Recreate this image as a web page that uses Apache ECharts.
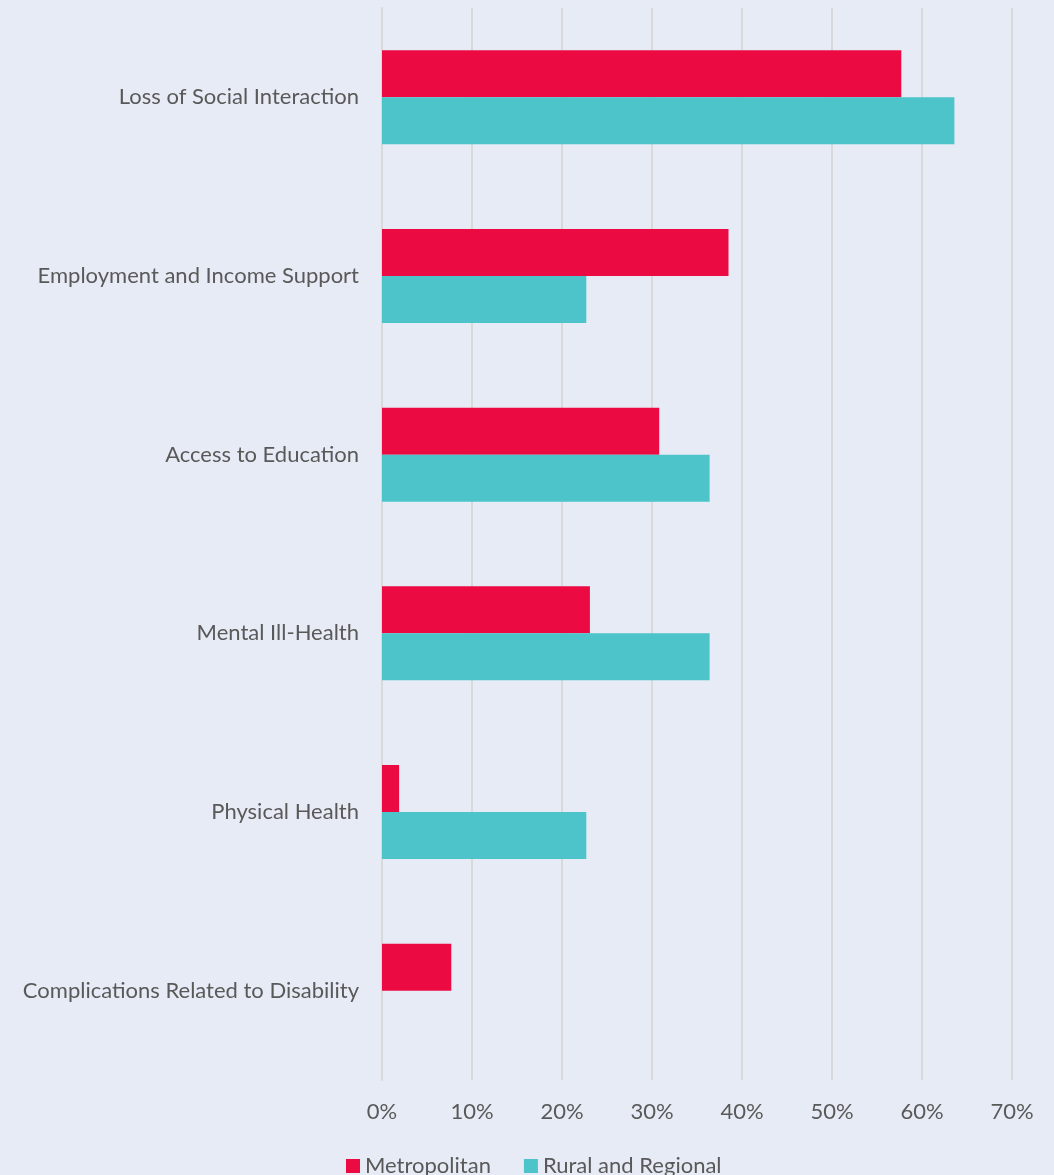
<!DOCTYPE html>
<html>
<head>
<meta charset="utf-8">
<script src="https://cdn.jsdelivr.net/npm/echarts@6/dist/echarts.min.js"></script>
<style>
html,body{margin:0;padding:0;background:#E7EBF5;}
#main{width:1054px;height:1175px;}
</style>
</head>
<body>
<div id="main"></div>
<script>
const categories = [
  "Loss of Social Interaction",
  "Employment and Income Support",
  "Access to Education",
  "Mental Ill-Health",
  "Physical Health",
  "Complications Related to Disability"
];
const metropolitan = [57.7, 38.5, 30.8, 23.1, 1.9, 7.7];
const ruralRegional = [63.6, 22.7, 36.4, 36.4, 22.7, 0];
const seriesNames = ["Metropolitan", "Rural and Regional"];
const xTicks = [0, 10, 20, 30, 40, 50, 60, 70];

const FONT = "Lato";
const chart = echarts.init(document.getElementById('main'));
chart.setOption({
  backgroundColor: '#E7EBF5',
  animation: false,
  grid: {left: 382, right: 42, top: 8, bottom: 95, containLabel: false},
  legend: {
    data: seriesNames,
    left: 346, top: 1155, padding: 0,
    itemWidth: 14, itemHeight: 14, itemGap: 33,
    icon: 'rect',
    textStyle: {fontFamily: FONT, fontSize: 22, color: '#595959'}
  },
  xAxis: {
    type: 'value', min: xTicks[0], max: xTicks[xTicks.length-1], interval: 10,
    axisLine: {show: false}, axisTick: {show: false},
    splitLine: {lineStyle: {color: '#D9D9D9', width: 2}},
    axisLabel: {formatter: v => v + '%', fontFamily: FONT, fontSize: 22, color: '#595959', margin: 21}
  },
  yAxis: {
    type: 'category', data: categories, inverse: true,
    axisLine: {show: true, lineStyle: {color: '#D9D9D9', width: 2}},
    axisTick: {show: false},
    axisLabel: {fontFamily: FONT, fontSize: 22, color: '#595959', margin: 23}
  },
  series: [
    {name: seriesNames[0], type: 'bar', data: metropolitan, barWidth: 47, barGap: '0%',
     itemStyle: {color: '#EC0A43'}},
    {name: seriesNames[1], type: 'bar', data: ruralRegional, barWidth: 47, barGap: '0%',
     itemStyle: {color: '#4DC3CA'}}
  ]
});
</script>
</body>
</html>
